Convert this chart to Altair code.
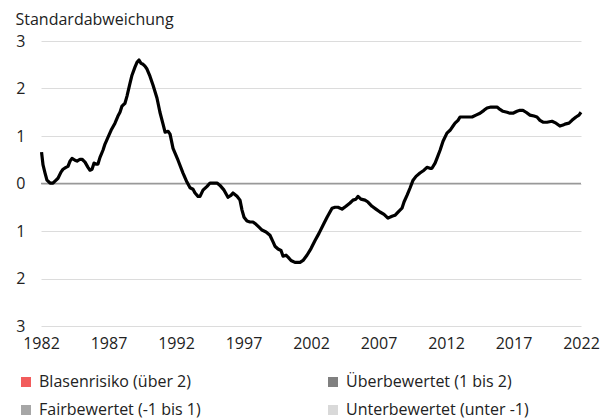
import altair as alt
import pandas as pd
import json

years = [1982.04, 1982.15, 1982.30, 1982.44, 1982.67, 1982.89, 1983.04, 1983.26, 1983.48, 1983.63,
         1983.85, 1984.00, 1984.15, 1984.30, 1984.52, 1984.67, 1984.89, 1985.04, 1985.26, 1985.48,
         1985.63, 1985.78, 1985.93, 1986.07, 1986.22, 1986.37, 1986.59, 1986.74, 1986.96, 1987.19,
         1987.48, 1987.70, 1987.85, 1988.00, 1988.22, 1988.37, 1988.59, 1988.74, 1988.96, 1989.11,
         1989.26, 1989.41, 1989.56, 1989.70, 1989.85, 1990.07, 1990.30, 1990.59, 1990.81, 1991.04,
         1991.19, 1991.41, 1991.56, 1991.78, 1992.15, 1992.52, 1992.81, 1993.04, 1993.26, 1993.41,
         1993.63, 1993.78, 1994.00, 1994.30, 1994.52, 1994.74, 1995.04, 1995.26, 1995.56, 1995.85,
         1996.07, 1996.22, 1996.52, 1996.74, 1996.89, 1997.04, 1997.26, 1997.48, 1997.70, 1997.93,
         1998.15, 1998.37, 1998.67, 1998.96, 1999.19, 1999.33, 1999.56, 1999.78, 1999.93, 2000.15,
         2000.30, 2000.52, 2000.81, 2001.19, 2001.41, 2001.70, 2002.00, 2002.30, 2002.59, 2002.89,
         2003.19, 2003.56, 2003.78, 2004.00, 2004.30, 2004.59, 2004.89, 2005.11, 2005.33, 2005.48,
         2005.70, 2006.00, 2006.22, 2006.52, 2006.81, 2007.11, 2007.41, 2007.70, 2008.00, 2008.22,
         2008.52, 2008.74, 2008.89, 2009.11, 2009.33, 2009.56, 2009.78, 2010.07, 2010.37, 2010.59,
         2010.81, 2010.96, 2011.19, 2011.33, 2011.56, 2011.78, 2012.07, 2012.30, 2012.52, 2012.67,
         2012.89, 2013.04, 2013.41, 2013.78, 2013.93, 2014.22, 2014.52, 2014.81, 2015.04, 2015.33,
         2015.56, 2015.78, 2016.00, 2016.22, 2016.52, 2016.74, 2016.96, 2017.26, 2017.48, 2017.70,
         2017.93, 2018.22, 2018.52, 2018.74, 2018.96, 2019.19, 2019.48, 2019.85, 2020.15, 2020.44,
         2020.67, 2020.81, 2021.11, 2021.33, 2021.63, 2021.85, 2022.00]

values = [0.66, 0.39, 0.22, 0.07, 0.01, 0.01, 0.05, 0.11, 0.24, 0.30,
          0.34, 0.36, 0.47, 0.53, 0.49, 0.47, 0.51, 0.51, 0.45, 0.34,
          0.28, 0.30, 0.43, 0.41, 0.41, 0.55, 0.70, 0.83, 0.97, 1.12,
          1.27, 1.42, 1.50, 1.63, 1.69, 1.84, 2.11, 2.28, 2.45, 2.55,
          2.60, 2.53, 2.51, 2.47, 2.41, 2.26, 2.07, 1.80, 1.50, 1.25,
          1.08, 1.10, 1.04, 0.74, 0.49, 0.22, 0.03, -0.09, -0.12, -0.20,
          -0.27, -0.27, -0.14, -0.06, 0.01, 0.01, 0.01, -0.04, -0.14, -0.29,
          -0.25, -0.20, -0.27, -0.35, -0.56, -0.71, -0.79, -0.81, -0.81, -0.86,
          -0.92, -0.98, -1.02, -1.09, -1.23, -1.32, -1.38, -1.41, -1.53, -1.51,
          -1.55, -1.62, -1.66, -1.66, -1.62, -1.51, -1.37, -1.20, -1.05, -0.88,
          -0.71, -0.52, -0.50, -0.50, -0.54, -0.48, -0.41, -0.35, -0.33, -0.27,
          -0.33, -0.35, -0.39, -0.48, -0.54, -0.60, -0.65, -0.73, -0.69, -0.67,
          -0.58, -0.52, -0.39, -0.25, -0.10, 0.07, 0.15, 0.22, 0.28, 0.34,
          0.32, 0.32, 0.43, 0.53, 0.70, 0.89, 1.06, 1.12, 1.21, 1.27,
          1.33, 1.40, 1.40, 1.40, 1.40, 1.44, 1.48, 1.54, 1.59, 1.61,
          1.61, 1.61, 1.56, 1.52, 1.50, 1.48, 1.48, 1.52, 1.54, 1.54,
          1.50, 1.44, 1.42, 1.40, 1.33, 1.29, 1.29, 1.31, 1.27, 1.21,
          1.23, 1.25, 1.27, 1.33, 1.40, 1.44, 1.50]

x_ticks = [1982, 1987, 1992, 1997, 2002, 2007, 2012, 2017, 2022]
y_ticks = [-3, -2, -1, 0, 1, 2, 3]

# legend entries, listed column by column (left column first)
categories = ["Blasenrisiko (über 2)", "Fairbewertet (-1 bis 1)",
              "Überbewertet (1 bis 2)", "Unterbewertet (unter -1)"]
cat_keys = ["a", "b", "c", "d"]
cat_colors = ["#F25C5C", "#A6A6A6", "#808080", "#D9D9D9"]

FONT = "Open Sans"
TXT = "#222222"

df = pd.DataFrame({"year": years, "value": values})
df_leg = pd.DataFrame({"key": cat_keys, "cat": categories})

label_map = json.dumps(dict(zip(cat_keys, categories)), ensure_ascii=False)

x_enc = alt.X("year:Q",
              scale=alt.Scale(domain=[1982, 2022], nice=False, zero=False),
              axis=alt.Axis(values=x_ticks, format="d", grid=False, domain=False, ticks=False,
                            labelPadding=9, labelFlush=False, labelOverlap=False,
                            labelFontSize=16, labelFont=FONT, labelColor=TXT, title=None))
y_enc = alt.Y("value:Q",
              scale=alt.Scale(domain=[-3, 3], nice=False),
              axis=alt.Axis(values=y_ticks, labelExpr="abs(datum.value)", grid=True,
                            gridColor="#DCDCDC", gridWidth=1, domain=False, ticks=False,
                            labelPadding=16, labelFontSize=16, labelFont=FONT, labelColor=TXT,
                            title="Standardabweichung", titleAngle=0, titleAlign="left",
                            titleBaseline="alphabetic", titleX=-26, titleY=-17,
                            titleFontSize=16, titleFont=FONT, titleFontWeight="normal",
                            titleColor=TXT))

line = alt.Chart(df).mark_line(color="black", strokeWidth=3.2, strokeJoin="round").encode(
    x=x_enc, y=y_enc)

zero = alt.Chart(pd.DataFrame({"z": [0]})).mark_rule(color="#999999", strokeWidth=1.5).encode(
    y=alt.Y("z:Q"))

legend_layer = alt.Chart(df_leg).mark_point(shape="square", filled=True, opacity=0).encode(
    x=alt.value(0), y=alt.value(0),
    color=alt.Color("key:N",
                    scale=alt.Scale(domain=cat_keys, range=cat_colors),
                    legend=alt.Legend(title=None, orient="none", legendX=-23, legendY=333,
                                      values=cat_keys,
                                      labelExpr=label_map + "[datum.value]",
                                      columns=2, columnPadding=124, rowPadding=12,
                                      symbolType="square", symbolSize=100, symbolOpacity=1,
                                      symbolStrokeWidth=0, labelOffset=5,
                                      labelFontSize=16, labelFont=FONT, labelColor=TXT,
                                      labelLimit=400, padding=0)))

chart = alt.layer(zero, line, legend_layer).properties(
    width=540, height=285,
    autosize=alt.AutoSizeParams(type="none"),
    padding={"left": 33, "top": 33, "right": 20, "bottom": 93},
).configure_view(stroke=None)

chart.save("out.html", embed_options={"renderer": "svg", "actions": False})
